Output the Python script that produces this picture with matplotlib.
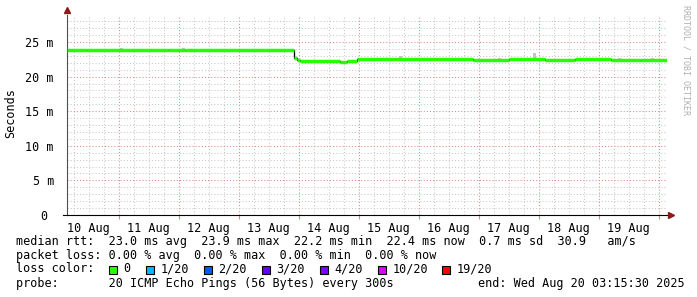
import matplotlib
matplotlib.use("Agg")
import matplotlib.pyplot as plt
import matplotlib.transforms as mtransforms
from matplotlib.patches import Rectangle
from matplotlib.ticker import FuncFormatter, NullFormatter
import numpy as np

plt.rcParams['font.family'] = ['DejaVu Sans Mono']

# time axis: days since 10 Aug 00:00
t_start = 0.136
t_end = 10.136
day_names = ["10 Aug", "11 Aug", "12 Aug", "13 Aug", "14 Aug",
             "15 Aug", "16 Aug", "17 Aug", "18 Aug", "19 Aug"]

# median rtt (ms), step starts
med_t = [0.136, 0.47, 1.82, 2.10, 3.92, 3.97, 4.02, 4.69, 4.80, 4.97,
         5.6, 6.3, 6.9, 7.5, 8.1, 8.6, 9.2, 9.7]
med_v = [23.8, 23.9, 23.8, 23.9, 22.7, 22.4, 22.3, 22.15, 22.3, 22.5,
         22.5, 22.5, 22.45, 22.5, 22.45, 22.5, 22.45, 22.45]

# smoke (ping spread) blips
smoke_t = [1.05, 1.39, 2.07, 2.40, 2.57, 3.57, 5.45, 5.69, 6.39, 7.35, 7.92, 9.35, 9.90]
smoke_lo = [23.9, 23.9, 23.9, 23.9, 23.9, 23.9, 22.5, 22.5, 22.5, 22.5, 22.5, 22.4, 22.45]
smoke_hi = [24.1, 24.05, 24.1, 24.05, 24.05, 24.05, 22.7, 22.95, 22.75, 22.7, 23.4, 22.7, 22.7]

loss_labels = ["0", "1/20", "2/20", "3/20", "4/20", "10/20", "19/20"]
loss_colors = ["#26ff00", "#00b8ff", "#0059ff", "#5e00ff", "#7e00ff", "#dd00ff", "#ff0000"]
loss_box_x = [109, 146, 204, 262, 320, 378, 442]

W, H = 697, 297
fig = plt.figure(figsize=(W / 100, H / 100), dpi=100)
fig.patch.set_facecolor('white')
ax = fig.add_axes([67 / W, (H - 215) / H, 600 / W, 200 / H])

# smoke
ax.bar(smoke_t, np.array(smoke_hi) - np.array(smoke_lo), bottom=smoke_lo,
       width=0.05, color='#c4c4c4', zorder=2)

# median line: black connectors, green levels
ends = med_t[1:] + [t_end]
ax.step(med_t + [t_end], med_v + [med_v[-1]], where='post', color='black', lw=0.9, zorder=3)
ax.hlines(med_v, med_t, ends, color=loss_colors[0], lw=2.5, zorder=4)

# grid
ax.set_xticks(np.arange(1, 11))
ax.set_xticks(np.arange(0, 10.2, 0.25), minor=True)
ax.set_yticks(np.arange(0, 26, 5))
ax.set_yticks(np.arange(0, 29, 1), minor=True)
ax.grid(which='major', color='#dd8888', lw=0.75, linestyle=(0, (1, 2)), zorder=0)
ax.grid(which='minor', color='#c8c8c8', lw=0.75, linestyle=(0, (1, 2)), zorder=0)
ax.set_axisbelow(True)
ax.set_xlim(t_start, t_end)
ax.set_ylim(0, 28.9)


def xfmt(v, pos):
    d = v - 0.5
    i = int(round(d))
    if abs(d - i) < 0.01 and 0 <= i < len(day_names):
        return day_names[i]
    return ""


ax.xaxis.set_major_formatter(NullFormatter())
ax.xaxis.set_minor_formatter(FuncFormatter(xfmt))
ax.tick_params(axis='x', which='major', length=3, color='#dd8888', direction='out')
ax.tick_params(axis='x', which='minor', length=0, pad=5, labelsize=8.5)
ax.set_yticklabels(["0", "5 m", "10 m", "15 m", "20 m", "25 m"])
ax.tick_params(axis='y', which='both', length=0, pad=9.4, labelsize=8.5)
off = mtransforms.ScaledTranslation(-7 / 100, 0, fig.dpi_scale_trans)
lbl0 = ax.get_yticklabels()[0]
lbl0.set_transform(lbl0.get_transform() + off)

for s in ['top', 'right']:
    ax.spines[s].set_visible(False)
ax.spines['left'].set_color('#505050')
ax.spines['left'].set_linewidth(0.8)
ax.spines['bottom'].set_visible(False)
ax.plot([-0.007, 1.004], [0, 0], transform=ax.transAxes, color='black', lw=0.8, clip_on=False, zorder=5)
ax.plot([1.0065], [0], transform=ax.transAxes, marker='>', ms=5, color='#8b1a1a', clip_on=False, zorder=6)
ax.plot([0], [1.025], transform=ax.transAxes, marker='^', ms=5, color='#8b1a1a', clip_on=False, zorder=6)

# labels
fig.text(11 / W, 1 - 113 / H, "Seconds", rotation=90, ha='center', va='center', fontsize=8.5)
fig.text(686 / W, 1 - 5 / H, "RRDTOOL / TOBI OETIKER", rotation=270, ha='center', va='top',
         fontsize=6, color='#b0b0b0')

fs = 8.5
x0 = 16 / W
fig.text(x0, 1 - 241 / H,
         "median rtt:  23.0 ms avg  23.9 ms max  22.2 ms min  22.4 ms now  0.7 ms sd  30.9   am/s",
         fontsize=fs, va='center')
fig.text(x0, 1 - 255 / H,
         "packet loss: 0.00 % avg  0.00 % max  0.00 % min  0.00 % now",
         fontsize=fs, va='center')
fig.text(x0, 1 - 269 / H, "loss color:", fontsize=fs, va='center')
for bx, lab, col in zip(loss_box_x, loss_labels, loss_colors):
    fig.patches.append(Rectangle((bx / W, 1 - 273.5 / H), 8 / W, 8 / H,
                                 transform=fig.transFigure, facecolor=col,
                                 edgecolor='black', lw=0.8))
    fig.text((bx + 14.5) / W, 1 - 269 / H, lab, fontsize=fs, va='center')
fig.text(x0, 1 - 283 / H,
         "probe:       20 ICMP Echo Pings (56 Bytes) every 300s",
         fontsize=fs, va='center')
fig.text(478 / W, 1 - 283 / H, "end: Wed Aug 20 03:15:30 2025", fontsize=fs, va='center')

fig.savefig("out.png", dpi=100)
